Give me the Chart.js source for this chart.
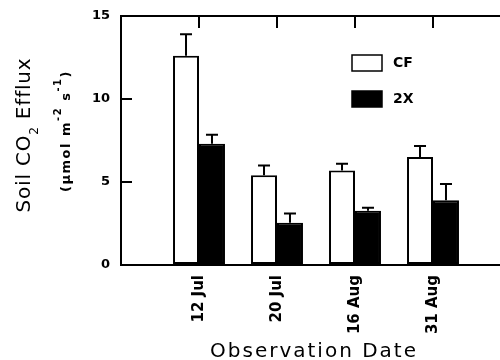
<!DOCTYPE html>
<html><head><meta charset="utf-8">
<script src="https://cdn.jsdelivr.net/npm/chart.js@4.4.0/dist/chart.umd.min.js"></script>
<style>html,body{margin:0;padding:0;background:#fff;overflow:hidden;width:500px;height:360px}canvas{display:block}</style>
</head><body>
<canvas id="c" width="512" height="360"></canvas>
<script>
const categories = ['12 Jul', '20 Jul', '16 Aug', '31 Aug'];
const seriesNames = ['CF', '2X'];
const cfValues = [12.6, 5.4, 5.7, 6.5];
const cfErrors = [1.3, 0.6, 0.4, 0.67];
const x2Values = [7.3, 2.55, 3.27, 3.9];
const x2Errors = [0.55, 0.55, 0.18, 0.98];
const yTicks = [0, 5, 10, 15];

const labels = [''].concat(categories, ['']);
const pad = a => [null].concat(a, [null]);

Chart.defaults.font.family = 'DejaVu Sans';
Chart.defaults.color = '#000';

function noPad(s) { s.paddingLeft = 0; s.paddingRight = 0; s.paddingTop = 0; s.paddingBottom = 0; }

function drawRich(ctx, parts, x, y, rot, spacing) {
  ctx.save();
  ctx.translate(x, y);
  ctx.rotate(rot);
  ctx.letterSpacing = spacing + 'px';
  ctx.textBaseline = 'alphabetic';
  ctx.textAlign = 'left';
  ctx.fillStyle = '#000';
  let total = 0;
  const widths = parts.map(p => { ctx.font = p.font; const w = ctx.measureText(p.text).width; total += w; return w; });
  let cx = -total / 2;
  parts.forEach((p, i) => { ctx.font = p.font; ctx.fillText(p.text, cx, p.dy || 0); cx += widths[i]; });
  ctx.restore();
}

const errorBars = {
  id: 'errorBars',
  afterDatasetsDraw(chart) {
    const ctx = chart.ctx, ys = chart.scales.y;
    ctx.save();
    ctx.strokeStyle = '#000';
    ctx.lineWidth = 2;
    chart.data.datasets.forEach((ds, i) => {
      const meta = chart.getDatasetMeta(i);
      meta.data.forEach((bar, j) => {
        const v = ds.data[j], e = ds.errors[j];
        if (v == null || e == null) return;
        const yt = ys.getPixelForValue(v + e);
        ctx.beginPath();
        ctx.moveTo(bar.x, bar.y);
        ctx.lineTo(bar.x, yt);
        ctx.moveTo(bar.x - 6, yt);
        ctx.lineTo(bar.x + 6, yt);
        ctx.stroke();
      });
    });
    ctx.restore();
  }
};

const customLegend = {
  id: 'customLegend',
  afterDraw(chart) {
    const ctx = chart.ctx;
    ctx.save();
    chart.data.datasets.forEach((ds, i) => {
      const y = 55 + i * 36;
      ctx.fillStyle = ds.backgroundColor;
      ctx.fillRect(352, y, 30, 16);
      ctx.strokeStyle = ds.borderColor;
      ctx.lineWidth = 1.5;
      ctx.strokeRect(352, y, 30, 16);
      ctx.fillStyle = '#000';
      ctx.font = 'bold 14px "DejaVu Sans"';
      ctx.textBaseline = 'middle';
      ctx.textAlign = 'left';
      ctx.fillText(ds.label, 393, y + 8);
    });
    ctx.restore();
  }
};

const titles = {
  id: 'titles',
  afterDraw(chart) {
    const ctx = chart.ctx;
    drawRich(ctx, [
      {text: 'Soil CO', font: '20px "DejaVu Sans"'},
      {text: '2', font: '12px "DejaVu Sans"', dy: 8},
      {text: ' Efflux', font: '20px "DejaVu Sans"'}
    ], 30, 135, -Math.PI / 2, 0.8);
    drawRich(ctx, [
      {text: '(\u03bcmol m', font: 'bold 13px "DejaVu Sans"'},
      {text: '-2', font: 'bold 10px "DejaVu Sans"', dy: -9},
      {text: ' s', font: 'bold 13px "DejaVu Sans"'},
      {text: '-1', font: 'bold 10px "DejaVu Sans"', dy: -9},
      {text: ')', font: 'bold 13px "DejaVu Sans"'}
    ], 70, 131, -Math.PI / 2, 1.5);
    drawRich(ctx, [{text: 'Observation Date', font: '20px "DejaVu Sans"'}], 314, 357, 0, 2);
  }
};

new Chart(document.getElementById('c'), {
  type: 'bar',
  data: {
    labels: labels,
    datasets: [
      {label: seriesNames[0], data: pad(cfValues), errors: pad(cfErrors), backgroundColor: '#fff', borderColor: '#000', borderWidth: 2, borderSkipped: false},
      {label: seriesNames[1], data: pad(x2Values), errors: pad(x2Errors), backgroundColor: '#000', borderColor: '#000', borderWidth: 2, borderSkipped: false}
    ]
  },
  options: {
    responsive: false,
    animation: false,
    devicePixelRatio: 1,
    categoryPercentage: 0.666,
    barPercentage: 1.0,
    layout: {padding: {left: 0, right: 1, top: 0, bottom: 0}},
    plugins: {legend: {display: false}, tooltip: {enabled: false}},
    scales: {
      x: {
        type: 'category', position: 'bottom', offset: false,
        grid: {display: false, drawTicks: false, offset: false},
        border: {display: true, color: '#000', width: 2},
        ticks: {autoSkip: false, minRotation: 90, maxRotation: 90, padding: 10, color: '#000', font: {family: 'DejaVu Sans', weight: 'bold', size: 15}},
        afterFit(s) { s.height = 95; noPad(s); }
      },
      xTop: {
        type: 'category', position: 'top', offset: false,
        grid: {display: true, drawOnChartArea: false, drawTicks: true, tickLength: -12, color: '#000', lineWidth: 2, offset: false},
        border: {display: true, color: '#000', width: 2},
        ticks: {display: false},
        afterFit(s) { s.height = 16; noPad(s); }
      },
      y: {
        type: 'linear', position: 'left', min: 0, max: 15,
        afterBuildTicks(s) { s.ticks = yTicks.map(v => ({value: v})); },
        grid: {display: true, drawOnChartArea: false, drawTicks: true, tickLength: -11, color: '#000', lineWidth: 2},
        border: {display: true, color: '#000', width: 2},
        ticks: {padding: 22, color: '#000', font: {family: 'DejaVu Sans', weight: 'bold', size: 13}},
        afterFit(s) { s.width = 121; noPad(s); }
      },
      yRight: {
        type: 'linear', position: 'right', min: 0, max: 15,
        afterBuildTicks(s) { s.ticks = yTicks.map(v => ({value: v})); },
        grid: {display: true, drawOnChartArea: false, drawTicks: true, tickLength: -11, color: '#000', lineWidth: 2},
        border: {display: true, color: '#000', width: 2},
        ticks: {display: false},
        afterFit(s) { s.width = 0; noPad(s); }
      }
    }
  },
  plugins: [errorBars, customLegend, titles]
});
</script>
</body></html>
